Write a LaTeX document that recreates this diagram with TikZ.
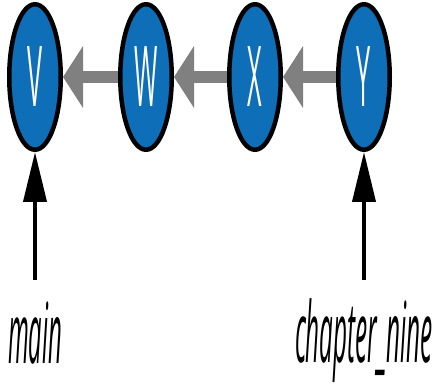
\documentclass[tikz,border=0pt]{standalone}
\usepackage{fontspec}
\setmainfont{Open Sans}
\usetikzlibrary{shapes.geometric,arrows.meta}
\definecolor{nodeblue}{RGB}{14,110,184}
\definecolor{arrgray}{RGB}{128,128,128}
\tikzset{
  commit/.style={ellipse, draw=black, line width=4.5pt, fill=nodeblue,
    minimum width=51.5pt, minimum height=145.5pt, inner sep=0pt,
    text=white, font=\fontsize{84}{84}\selectfont},
  parentarrow/.style={draw=arrgray, line width=12pt,
    -{Triangle[length=20pt,width=61pt]}},
  refarrow/.style={draw=black, line width=4pt,
    -{Triangle[length=50pt,width=23pt]}},
  reflabel/.style={inner sep=0pt, anchor=base, font=\fontsize{84}{84}\selectfont\itshape}
}
\newcommand{\narrow}[1]{\scalebox{0.3}[1]{#1}}
\begin{document}
\begin{tikzpicture}[x=1pt,y=1pt]
\useasboundingbox (0,0) rectangle (437,389);
\node[commit] (V) at (35,312) {\narrow{V}};
\node[commit] (W) at (146,312) {\narrow{W}};
\node[commit] (X) at (255,312) {\narrow{X}};
\node[commit] (Y) at (364,312) {\narrow{Y}};
\draw[parentarrow] (W.west) -- (V.east);
\draw[parentarrow] (X.west) -- (W.east);
\draw[parentarrow] (Y.west) -- (X.east);
\coordinate (vtail) at (35,109);
\coordinate (ytail) at (364,109);
\draw[refarrow] (vtail) -- (V.south);
\draw[refarrow] (ytail) -- (Y.south);
\node[reflabel] (main) at (35,26) {\resizebox{54pt}{\height}{main}};
\node[reflabel] (chap) at (364,27) {\resizebox{138pt}{\height}{chapter\_nine}};
\end{tikzpicture}
\end{document}
